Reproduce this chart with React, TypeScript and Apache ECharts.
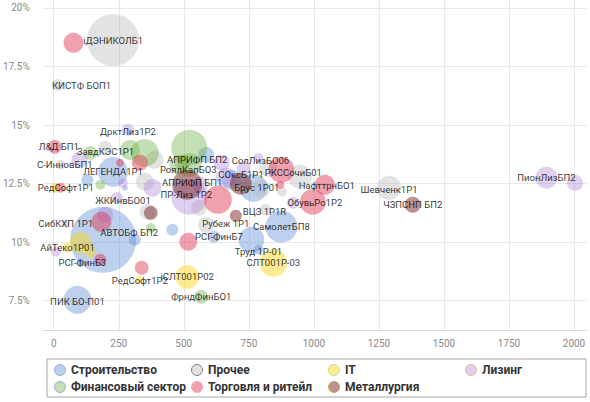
import React, { useEffect, useRef } from "react";
import * as echarts from "echarts";

const xTicks = [0, 250, 500, 750, 1000, 1250, 1500, 1750, 2000];
const yTicks = [7.5, 10, 12.5, 15, 17.5, 20];

const categories = [
  "Строительство",
  "Прочее",
  "IT",
  "Лизинг",
  "Финансовый сектор",
  "Торговля и ритейл",
  "Металлургия",
];

// [x, yield %, volume, label]
const construction: [number, number, number, string][] = [
  [190, 10.1, 272, "АВТОБФ БП2"],
  [91, 7.54, 49, "ПИК БО-П01"],
  [228, 13.0, 56, "ЛЕГЕНДА1Р1"],
  [875, 10.66, 64, "СамолетБП8"],
  [760, 10.1, 42, ""],
  [787, 9.68, 6, "Труд 1Р-01"],
  [616, 10.23, 9, "РСГ-ФинБ7"],
  [312, 10.1, 9, ""],
  [456, 10.53, 9, ""],
  [129, 12.66, 9, ""],
  [274, 12.32, 2, ""],
  [103, 9.12, 4, ""],
  [768, 12.32, 49, ""],
  [684, 12.66, 25, ""],
  [586, 13.73, 16, ""],
];

const other: [number, number, number, string][] = [
  [228, 18.63, 169, "iДЭНИКОЛБ1"],
  [15, 16.71, 9, "КИСТФ БОП1"],
  [1289, 12.32, 36, "Шевченк1Р1"],
  [27, 13.3, 6, "С-ИнновБП1"],
  [198, 14.03, 12, ""],
  [388, 13.52, 20, ""],
  [350, 12.58, 20, ""],
  [361, 11.3, 16, ""],
  [559, 11.47, 16, ""],
  [798, 12.28, 20, ""],
  [947, 12.79, 36, ""],
  [878, 12.15, 6, ""],
  [825, 13.17, 20, ""],
  [586, 10.74, 16, ""],
  [814, 11.38, 9, "ВЦЗ 1Р1R"],
  [46, 10.78, 4, "СибКХП 1Р1"],
  [494, 13.39, 16, ""],
];

const it: [number, number, number, string][] = [
  [103, 9.97, 30, "АйТеко1Р01"],
  [53, 9.76, 6, ""],
  [141, 9.59, 9, ""],
  [8, 12.32, 6, "РедСофт1Р1"],
  [513, 8.52, 36, "iСЛТ001Р02"],
  [844, 9.12, 49, "СЛТ001Р-03"],
  [327, 8.4, 4, "РедСофт1Р2"],
];

const leasing: [number, number, number, string][] = [
  [285, 14.8, 9, "ДрктЛиз1Р2"],
  [521, 11.94, 81, "ПР-Лиз 1Р2"],
  [787, 13.6, 6, "СолЛизБО06"],
  [662, 12.75, 25, "СОксБ1Р1"],
  [920, 11.68, 9, ""],
  [1894, 12.75, 30, "ПионЛизБП2"],
  [2004, 12.53, 16, ""],
  [99, 13.52, 16, ""],
  [8, 9.59, 6, ""],
  [243, 11.89, 9, "ЖКИнвБО01"],
  [380, 12.32, 20, ""],
  [198, 11.17, 16, ""],
  [646, 13.39, 16, ""],
  [266, 12.53, 6, ""],
  [563, 12.45, 16, ""],
  [730, 13.17, 12, ""],
];

const finance: [number, number, number, string][] = [
  [521, 14.03, 81, "АПРИФП БП2"],
  [141, 13.81, 12, "ЗавдКЭС1Р1"],
  [293, 13.94, 25, ""],
  [350, 13.81, 49, ""],
  [483, 13.3, 25, ""],
  [179, 12.45, 6, ""],
  [373, 10.61, 6, ""],
  [567, 7.67, 12, "ФрндФинБО1"],
  [521, 13.3, 36, "РоялКапБО3"],
];

const retail: [number, number, number, string][] = [
  [76, 18.51, 25, ""],
  [4, 14.07, 12, "Л&Д БП1"],
  [27, 12.32, 6, ""],
  [331, 13.39, 16, ""],
  [255, 13.39, 4, ""],
  [183, 10.87, 25, ""],
  [179, 9.25, 9, "РСГ-ФинБ3"],
  [338, 8.91, 12, ""],
  [517, 10.02, 20, ""],
  [631, 11.81, 49, ""],
  [875, 13.09, 42, "РКССочиБ01"],
  [871, 12.45, 4, ""],
  [1042, 12.45, 25, "НафттрнБО1"],
  [996, 11.72, 42, "ОбувьРо1Р2"],
];

const metals: [number, number, number, string][] = [
  [513, 12.45, 56, "АПРИФП БП1"],
  [719, 12.49, 30, "Брус 1Р01"],
  [700, 11.13, 9, "Рубеж 1Р1"],
  [1380, 11.6, 16, "ЧЗПСНП БП2"],
  [373, 11.25, 12, ""],
];

const seriesData = [construction, other, it, leasing, finance, retail, metals];

const colors = [
  "rgba(91,139,212,0.5)",
  "rgba(185,185,185,0.5)",
  "rgba(252,214,30,0.6)",
  "rgba(165,125,215,0.45)",
  "rgba(110,175,70,0.5)",
  "rgba(224,40,70,0.55)",
  "rgba(115,25,25,0.6)",
];
const legendBorders = ["#7f9fd6", "#666666", "#b5dc7a", "#e0a77a", "#8e9ad8", "#f09aaa", "#d0963a"];

const labelOffsets: Record<string, [number, number]> = {
  "КИСТФ БОП1": [24, 0],
  "Л&Д БП1": [4, 0],
  "ДрктЛиз1Р2": [0, 2],
  "ЗавдКЭС1Р1": [15, -1],
  "С-ИнновБП1": [4, 0],
  "РедСофт1Р1": [10, 0],
  "ЖКИнвБО01": [6, 3],
  "АВТОБФ БП2": [26, -7],
  "АйТеко1Р01": [-13, 5],
  "РСГ-ФинБ3": [-18, 3],
  "РедСофт1Р2": [1, 1],
  "ПИК БО-П01": [0, 2],
  "АПРИФП БП2": [8, 12],
  "РоялКапБО3": [-1, 5],
  "АПРИФП БП1": [5, -2],
  "ПР-Лиз 1Р2": [-3, -2],
  "СОксБ1Р1": [15, -3],
  "СолЛизБО06": [2, 3],
  "Брус 1Р01": [16, 4],
  "РКССочиБ01": [12, 3],
  "НафттрнБО1": [2, 1],
  "ОбувьРо1Р2": [2, 1],
  "Шевченк1Р1": [0, 2],
  "ВЦЗ 1Р1R": [-1, 2],
  "Рубеж 1Р1": [-10, 8],
  "РСГ-ФинБ7": [5, 0],
  "Труд 1Р-01": [0, 2],
};

export default function App() {
  const ref = useRef<HTMLDivElement>(null);
  useEffect(() => {
    if (!ref.current) return;
    const chart = echarts.init(ref.current, null, { renderer: "svg" });
    const series = seriesData.map((arr, i) => ({
      name: categories[i],
      type: "scatter",
      data: arr.map((d) => ({
        value: d,
        label: d[3] ? { show: true, offset: labelOffsets[d[3]] || [0, 0] } : { show: false },
      })),
      symbolSize: (v: any) => 4 * Math.sqrt(v[2]),
      itemStyle: { color: colors[i] },
      label: {
        show: true,
        position: "inside",
        formatter: (p: any) => p.data.value[3] || "",
        color: "#000",
        fontSize: 9.5,
        fontFamily: "Roboto",
      },
      emphasis: { disabled: true },
      clip: false,
    }));
    chart.setOption({
      animation: false,
      grid: { left: 37, right: 3, top: 0, bottom: 72 },
      xAxis: {
        type: "value",
        min: -42,
        max: 2050,
        axisLine: { show: true, lineStyle: { color: "#d6daee" } },
        axisTick: { show: false, customValues: xTicks },
        axisLabel: {
          customValues: xTicks,
          color: "#8a8a8a",
          fontSize: 10,
          margin: 8,
          fontFamily: "Roboto",
          formatter: (v: number) => String(v),
        },
        splitLine: { show: true, lineStyle: { color: "#e8e8e8" } },
      },
      yAxis: {
        type: "value",
        min: 6.25,
        max: 20.34,
        axisLine: { show: false },
        axisTick: { show: false, customValues: yTicks },
        axisLabel: {
          customValues: yTicks,
          color: "#8a8a8a",
          fontSize: 10,
          margin: 13,
          fontFamily: "Roboto",
          formatter: (v: number) => v + "%",
        },
        splitLine: { show: true, lineStyle: { color: "#e8e8e8" } },
      },
      legend: {
        left: 47,
        top: 359,
        width: 530,
        orient: "horizontal",
        padding: [5, 7, 4, 7],
        itemGap: 5,
        itemWidth: 12,
        itemHeight: 11,
        icon: "circle",
        borderColor: "#a6a6a6",
        borderWidth: 1,
        textStyle: {
          color: "#333",
          fontWeight: "bold",
          fontSize: 12,
          fontFamily: "Roboto",
          lineHeight: 11,
          width: 115,
        },
        data: categories.map((c, i) => ({
          name: c,
          itemStyle: { borderColor: legendBorders[i], borderWidth: 1 },
          textStyle: c === "Лизинг" ? { width: 97 } : undefined,
        })),
      },
      series,
    });
    return () => chart.dispose();
  }, []);
  return (
    <div
      ref={ref}
      style={{ position: "absolute", left: 0, top: 0, width: 590, height: 402 }}
    />
  );
}
